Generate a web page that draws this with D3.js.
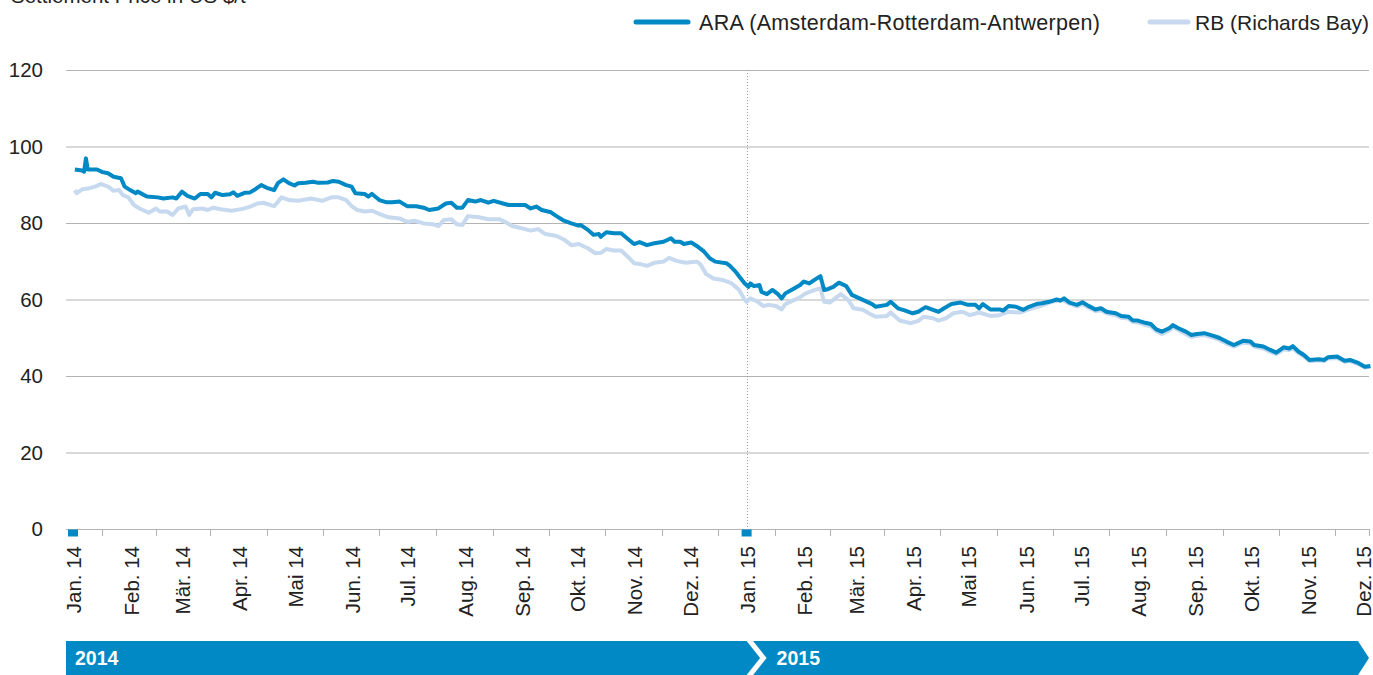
<!DOCTYPE html>
<html><head><meta charset="utf-8">
<script src="https://cdn.jsdelivr.net/npm/d3@7"></script>
<style>body{margin:0;background:#fff}svg{display:block}</style>
</head><body>
<svg id="c" width="1373" height="675"></svg>
<script>
// ---------- DATA ----------
const title = "Settlement Price in US $/t";
const seriesNames = ["ARA (Amsterdam-Rotterdam-Antwerpen)", "RB (Richards Bay)"];
const yTicks = [0, 20, 40, 60, 80, 100, 120];
const monthLabels = ["Jan. 14","Feb. 14","Mär. 14","Apr. 14","Mai 14","Jun. 14","Jul. 14","Aug. 14","Sep. 14","Okt. 14","Nov. 14","Dez. 14",
                     "Jan. 15","Feb. 15","Mär. 15","Apr. 15","Mai 15","Jun. 15","Jul. 15","Aug. 15","Sep. 15","Okt. 15","Nov. 15","Dez. 15"];
const monthDates = ["2014-01-01","2014-02-01","2014-03-01","2014-04-01","2014-05-01","2014-06-01","2014-07-01","2014-08-01","2014-09-01","2014-10-01","2014-11-01","2014-12-01",
                    "2015-01-01","2015-02-01","2015-03-01","2015-04-01","2015-05-01","2015-06-01","2015-07-01","2015-08-01","2015-09-01","2015-10-01","2015-11-01","2015-12-01"];
const yearLabels = ["2014", "2015"];
const yearStarts = ["2014-01-01", "2015-01-01"];

const araDates = ["2014-01-02","2014-01-06","2014-01-07","2014-01-08","2014-01-09","2014-01-14","2014-01-17","2014-01-20","2014-01-23","2014-01-27","2014-01-29",
"2014-02-01","2014-02-04","2014-02-05","2014-02-10","2014-02-16","2014-02-19","2014-02-24","2014-02-26",
"2014-03-01","2014-03-04","2014-03-08","2014-03-11","2014-03-15","2014-03-17","2014-03-19","2014-03-23","2014-03-27","2014-03-29","2014-03-31",
"2014-04-04","2014-04-07","2014-04-10","2014-04-13","2014-04-16","2014-04-20","2014-04-22","2014-04-25","2014-04-28",
"2014-05-01","2014-05-03","2014-05-07","2014-05-11","2014-05-14","2014-05-19","2014-05-22","2014-05-25","2014-05-29",
"2014-06-01","2014-06-03","2014-06-08","2014-06-10","2014-06-12","2014-06-16","2014-06-20","2014-06-23","2014-06-27",
"2014-07-01","2014-07-06","2014-07-10","2014-07-13","2014-07-18","2014-07-22","2014-07-25","2014-07-28","2014-07-31",
"2014-08-03","2014-08-07","2014-08-10","2014-08-14","2014-08-17","2014-08-22","2014-08-25",
"2014-09-03","2014-09-06","2014-09-09","2014-09-12","2014-09-17","2014-09-20","2014-09-24","2014-09-28",
"2014-10-02","2014-10-03","2014-10-07","2014-10-10","2014-10-13","2014-10-14","2014-10-17","2014-10-21","2014-10-25","2014-10-29",
"2014-11-01","2014-11-04","2014-11-08","2014-11-12","2014-11-17","2014-11-21","2014-11-23","2014-11-26","2014-11-28",
"2014-12-02","2014-12-05","2014-12-09","2014-12-12","2014-12-15","2014-12-21","2014-12-23","2014-12-26","2014-12-28","2014-12-31",
"2015-01-02","2015-01-03","2015-01-05","2015-01-08","2015-01-09","2015-01-12","2015-01-15","2015-01-18","2015-01-20","2015-01-22","2015-01-26","2015-01-30",
"2015-02-01","2015-02-04","2015-02-07","2015-02-10","2015-02-12","2015-02-14","2015-02-17","2015-02-20","2015-02-24","2015-02-27",
"2015-03-05","2015-03-10","2015-03-12","2015-03-18","2015-03-20","2015-03-24","2015-03-28",
"2015-04-01","2015-04-04","2015-04-08","2015-04-12","2015-04-15","2015-04-18","2015-04-22","2015-04-27",
"2015-05-01","2015-05-05","2015-05-07","2015-05-09","2015-05-13","2015-05-18","2015-05-20","2015-05-23","2015-05-27","2015-05-31",
"2015-06-03","2015-06-07","2015-06-10","2015-06-14","2015-06-18","2015-06-20","2015-06-22","2015-06-25","2015-06-29",
"2015-07-02","2015-07-05","2015-07-09","2015-07-12","2015-07-15","2015-07-20","2015-07-23","2015-07-27","2015-07-29",
"2015-08-01","2015-08-05","2015-08-08","2015-08-11","2015-08-14","2015-08-18","2015-08-20","2015-08-23","2015-08-27","2015-08-30",
"2015-09-02","2015-09-06","2015-09-11","2015-09-14","2015-09-18","2015-09-22","2015-09-27",
"2015-10-01","2015-10-03","2015-10-08","2015-10-11","2015-10-15","2015-10-19","2015-10-22","2015-10-24","2015-10-27","2015-10-30",
"2015-11-02","2015-11-07","2015-11-10","2015-11-12","2015-11-17","2015-11-21","2015-11-24","2015-11-28",
"2015-12-02","2015-12-05"];
const araValues = [94.0,93.7,93.4,96.9,94.0,94.0,93.3,93.0,92.1,91.7,89.5,
88.6,87.8,88.2,86.9,86.7,86.4,86.7,86.4,
88.2,87.1,86.4,87.6,87.6,86.7,87.9,87.3,87.5,88.0,87.1,
87.9,88.0,88.9,89.9,89.2,88.6,90.4,91.4,90.4,
89.8,90.4,90.5,90.8,90.5,90.6,91.0,90.8,89.9,
89.5,87.8,87.6,86.9,87.6,86.0,85.4,85.4,85.6,
84.4,84.4,84.0,83.4,83.8,85.1,85.3,84.0,84.0,
86.0,85.6,86.0,85.3,85.8,85.1,84.7,
84.7,83.8,84.3,83.4,82.8,81.8,80.6,79.9,
79.3,79.5,78.2,76.9,77.1,76.4,77.6,77.3,77.3,75.7,
74.5,75.0,74.2,74.7,75.1,76.0,75.1,75.1,74.5,
74.9,74.0,72.5,70.8,69.9,69.5,68.8,67.3,66.0,64.2,
63.3,64.2,63.5,63.8,62.0,61.4,62.5,61.4,60.3,61.6,62.7,63.8,
64.7,64.2,65.2,66.1,62.5,62.7,63.3,64.4,63.5,61.2,
59.9,58.8,58.1,58.6,59.4,57.7,57.1,
56.4,56.8,58.0,57.3,56.8,57.7,58.8,59.2,
58.6,58.6,57.7,58.8,57.4,57.4,57.1,58.3,58.1,57.3,
58.1,58.8,59.0,59.4,60.0,59.7,60.3,59.2,58.6,
59.3,58.4,57.4,57.7,56.8,56.4,55.7,55.5,54.6,
54.5,53.9,53.6,52.2,51.6,52.5,53.3,52.5,51.6,50.7,
51.0,51.2,50.5,50.0,49.0,48.1,49.2,
49.0,48.1,47.7,47.0,46.1,47.5,47.2,47.8,46.4,45.5,
44.2,44.4,44.2,44.9,45.1,44.0,44.2,43.5,
42.4,42.6];

const rbDates = ["2014-01-02","2014-01-03","2014-01-06","2014-01-09","2014-01-13","2014-01-16","2014-01-20","2014-01-23","2014-01-26","2014-01-28","2014-01-31",
"2014-02-03","2014-02-06","2014-02-11","2014-02-15","2014-02-17","2014-02-21","2014-02-24","2014-02-27",
"2014-03-03","2014-03-05","2014-03-07","2014-03-12","2014-03-15","2014-03-18","2014-03-22","2014-03-28",
"2014-04-03","2014-04-07","2014-04-11","2014-04-14","2014-04-20","2014-04-24","2014-04-28",
"2014-05-03","2014-05-10","2014-05-16","2014-05-21","2014-05-25","2014-05-29",
"2014-06-01","2014-06-04","2014-06-08","2014-06-12","2014-06-16","2014-06-21","2014-06-27",
"2014-07-01","2014-07-05","2014-07-10","2014-07-15","2014-07-18","2014-07-21","2014-07-25","2014-07-28","2014-07-31",
"2014-08-03","2014-08-09","2014-08-14","2014-08-20","2014-08-23","2014-08-27",
"2014-09-03","2014-09-06","2014-09-10","2014-09-14","2014-09-20","2014-09-24","2014-09-28",
"2014-10-02","2014-10-07","2014-10-11","2014-10-14","2014-10-17","2014-10-21","2014-10-25","2014-10-29",
"2014-11-01","2014-11-04","2014-11-08","2014-11-12","2014-11-17","2014-11-20","2014-11-24","2014-11-29",
"2014-12-05","2014-12-07","2014-12-10","2014-12-14","2014-12-19","2014-12-24","2014-12-28","2014-12-31",
"2015-01-01","2015-01-03","2015-01-07","2015-01-10","2015-01-13","2015-01-17","2015-01-20","2015-01-22","2015-01-26","2015-01-30",
"2015-02-02","2015-02-07","2015-02-10","2015-02-12","2015-02-15","2015-02-18","2015-02-21","2015-02-25","2015-02-28",
"2015-03-05","2015-03-09","2015-03-12","2015-03-18","2015-03-20","2015-03-25","2015-03-31",
"2015-04-04","2015-04-07","2015-04-12","2015-04-15","2015-04-19","2015-04-23","2015-04-28",
"2015-05-02","2015-05-07","2015-05-13","2015-05-18","2015-05-23","2015-05-29",
"2015-06-03","2015-06-09","2015-06-14","2015-06-18","2015-06-21","2015-06-25","2015-06-29",
"2015-07-02","2015-07-05","2015-07-09","2015-07-12","2015-07-15","2015-07-20","2015-07-23","2015-07-27","2015-07-29",
"2015-08-01","2015-08-05","2015-08-08","2015-08-11","2015-08-14","2015-08-18","2015-08-20","2015-08-23","2015-08-27","2015-08-30",
"2015-09-02","2015-09-06","2015-09-11","2015-09-14","2015-09-18","2015-09-22","2015-09-27",
"2015-10-01","2015-10-03","2015-10-08","2015-10-11","2015-10-15","2015-10-19","2015-10-22","2015-10-24","2015-10-27","2015-10-30",
"2015-11-02","2015-11-07","2015-11-10","2015-11-12","2015-11-17","2015-11-21","2015-11-24","2015-11-28",
"2015-12-02","2015-12-05"];
const rbValues = [88.6,87.8,88.8,89.0,89.5,90.2,89.5,88.4,88.6,87.3,86.7,
84.7,83.8,82.7,83.8,83.0,83.0,82.1,83.8,
84.3,82.1,83.6,83.8,83.4,84.0,83.6,83.2,
83.7,84.3,85.1,85.3,84.4,86.7,86.0,
85.8,86.4,85.8,86.7,86.7,86.0,
84.4,83.4,83.0,83.2,82.4,81.5,81.2,
80.3,80.6,79.9,79.7,79.2,80.8,81.0,79.7,79.5,
81.8,81.5,81.0,81.0,80.3,79.2,
78.4,78.0,78.4,77.1,76.6,75.7,74.2,
74.5,73.4,72.1,72.2,73.2,72.8,72.8,71.0,
69.5,69.3,68.8,69.6,69.9,70.9,70.1,69.6,
69.9,69.2,66.7,65.5,65.1,64.2,62.5,59.9,
59.4,60.3,59.4,58.3,58.6,58.3,57.4,58.8,59.7,60.6,
61.6,62.5,62.9,59.4,59.2,60.3,61.4,59.9,57.7,
57.3,56.2,55.5,55.7,56.6,54.5,53.8,
54.4,55.5,55.1,54.5,55.1,56.4,56.8,
55.9,56.6,55.7,55.9,56.8,56.6,
57.4,58.3,59.2,59.7,59.9,58.9,58.2,
58.8,58.0,57.0,57.2,56.4,55.9,55.2,55.0,54.2,
54.0,53.4,53.0,51.7,51.0,51.9,52.8,52.0,51.0,50.2,
50.5,50.7,50.0,49.5,48.5,47.7,48.7,
48.5,47.7,47.2,46.5,45.7,47.0,46.8,47.3,46.0,45.1,
43.9,44.1,43.9,44.6,44.7,43.7,43.9,43.2,
42.2,42.4];

// ---------- LAYOUT / STYLE ----------
const W = 1373, H = 675;
const plotL = 66, plotR = 1369, plotT = 70, plotB = 529;
const BLUE = "#0089c4", LIGHT = "#c6d9ee", GRID = "#b3b3b3", TXT = "#222";
const FONT = "'Liberation Sans', Arial, sans-serif";

const parse = d3.timeParse("%Y-%m-%d");
const svg = d3.select("#c");

const x = d3.scaleTime()
  .domain([parse("2014-01-01"), parse("2015-12-01")])
  .range([73, 1363]);
const y = d3.scaleLinear().domain([0, 120]).range([plotB, plotT]);

// title (cut off at top, as in the original)
svg.append("text").attr("x", 11).attr("y", 3)
  .attr("font-family", FONT).attr("font-size", 20.5).attr("fill", TXT)
  .text(title);

// gridlines
svg.append("g").selectAll("line").data(yTicks.filter(d => d > 0)).join("line")
  .attr("x1", plotL).attr("x2", plotR)
  .attr("y1", d => y(d) + 0.5).attr("y2", d => y(d) + 0.5)
  .attr("stroke", GRID).attr("stroke-width", 1);

// y labels
svg.append("g").selectAll("text").data(yTicks).join("text")
  .attr("x", 43).attr("y", d => y(d)).attr("dy", "0.36em")
  .attr("text-anchor", "end")
  .attr("font-family", FONT).attr("font-size", 20.5).attr("fill", TXT)
  .text(d => d);

// dotted year separator
const sepX = Math.round(x(parse("2015-01-01"))) + 0.5;
svg.append("line")
  .attr("x1", sepX).attr("x2", sepX)
  .attr("y1", plotT).attr("y2", plotB)
  .attr("stroke", "#9a9a9a").attr("stroke-width", 1).attr("stroke-dasharray", "1,2");

// x axis baseline + ticks between months
const md = monthDates.map(parse);
const tickXs = md.slice(0, -1).map((d, i) => (x(d) + x(md[i + 1])) / 2);
tickXs.push(plotR);
const axisG = svg.append("g");
axisG.append("line").attr("x1", plotL).attr("x2", plotR)
  .attr("y1", plotB + 0.5).attr("y2", plotB + 0.5).attr("stroke", GRID).attr("stroke-width", 1.2);
axisG.selectAll("line.t").data(tickXs).join("line").attr("class", "t")
  .attr("x1", d => Math.round(d) + 0.5).attr("x2", d => Math.round(d) + 0.5)
  .attr("y1", plotB).attr("y2", plotB + 7)
  .attr("stroke", GRID).attr("stroke-width", 1);

// year markers on the axis
svg.append("g").selectAll("rect").data(yearStarts.map(parse)).join("rect")
  .attr("x", d => Math.max(plotL, x(d) - 5)).attr("y", plotB + 0.5)
  .attr("width", 10).attr("height", 7).attr("fill", BLUE);

// month labels
svg.append("g").selectAll("text").data(monthLabels).join("text")
  .attr("transform", (d, i) => `translate(${x(md[i]) + 1},546) rotate(-90)`)
  .attr("dy", "0.36em").attr("text-anchor", "end")
  .attr("font-family", FONT).attr("font-size", 20.5).attr("fill", TXT)
  .text(d => d);

// lines
const line = d3.line().x(d => x(d[0])).y(d => y(d[1])).curve(d3.curveLinear);
const rbData = rbDates.map((d, i) => [parse(d), rbValues[i]]);
const araData = araDates.map((d, i) => [parse(d), araValues[i]]);
svg.append("path").datum(rbData).attr("d", line)
  .attr("fill", "none").attr("stroke", LIGHT).attr("stroke-width", 4).attr("stroke-linejoin", "round");
svg.append("path").datum(araData).attr("d", line)
  .attr("fill", "none").attr("stroke", BLUE).attr("stroke-width", 4).attr("stroke-linejoin", "round");

// legend
const leg = svg.append("g");
leg.append("line").attr("x1", 636).attr("x2", 688).attr("y1", 22).attr("y2", 22)
  .attr("stroke", BLUE).attr("stroke-width", 5).attr("stroke-linecap", "round");
leg.append("text").attr("x", 699).attr("y", 22).attr("dy", "0.36em")
  .attr("font-family", FONT).attr("font-size", 21.5).attr("fill", TXT)
  .attr("textLength", 401).attr("lengthAdjust", "spacing").text(seriesNames[0]);
leg.append("line").attr("x1", 1150).attr("x2", 1188).attr("y1", 22).attr("y2", 22)
  .attr("stroke", LIGHT).attr("stroke-width", 5).attr("stroke-linecap", "round");
leg.append("text").attr("x", 1369).attr("y", 22).attr("dy", "0.36em").attr("text-anchor", "end")
  .attr("font-family", FONT).attr("font-size", 21).attr("fill", TXT).text(seriesNames[1]);

// year band
const bT = 641, bB = 675, bM = (bT + bB) / 2;
const xs = x(parse(yearStarts[1]));
const yearG = svg.append("g");
yearG.append("polygon").attr("fill", BLUE)
  .attr("points", [[plotL, bT], [xs, bT], [xs + 13.5, bM], [xs, bB], [plotL, bB]].map(p => p.join(",")).join(" "));
yearG.append("polygon").attr("fill", BLUE)
  .attr("points", [[xs + 6.5, bT], [plotR - 11, bT], [plotR, bM], [plotR - 11, bB], [xs + 6.5, bB], [xs + 20, bM]].map(p => p.join(",")).join(" "));
yearG.selectAll("text").data(yearLabels).join("text")
  .attr("x", (d, i) => i === 0 ? plotL + 9 : xs + 30).attr("y", bM).attr("dy", "0.36em")
  .attr("font-family", FONT).attr("font-size", 19.5).attr("font-weight", "bold").attr("fill", "#fff")
  .text(d => d);
</script>
</body></html>
